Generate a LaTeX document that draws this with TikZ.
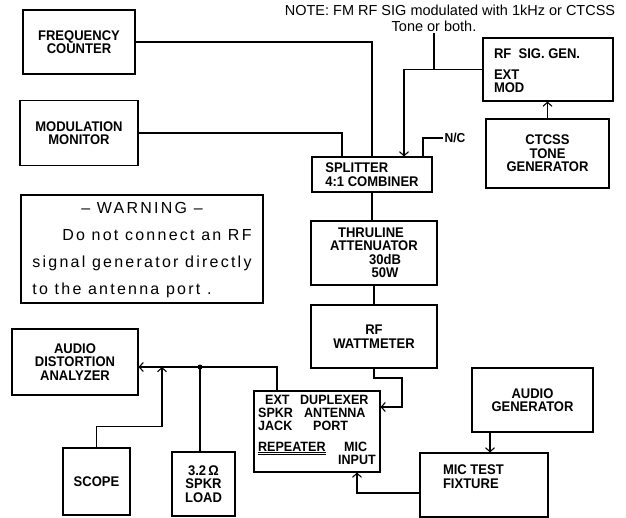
\documentclass[tikz,border=0pt]{standalone}
\usepackage{fontspec}
\setmainfont{Liberation Sans}
\newfontfamily\boxfont[FakeStretch=0.93]{Liberation Sans}
\newfontfamily\warnfont[LetterSpace=14]{Liberation Sans}
\usetikzlibrary{arrows.meta}

\begin{document}
\begin{tikzpicture}[x=1pt,y=-1pt,line width=1.1pt,>={Straight Barb[length=4pt,width=9pt]},
    box/.style={draw,rectangle,inner sep=0pt,align=center,font=\boxfont\bfseries\fontsize{14}{13.5}\selectfont},
    lbl/.style={inner sep=0pt,align=left,font=\boxfont\bfseries\fontsize{14}{13.5}\selectfont}]
    \useasboundingbox (0,0) rectangle (626,518);

    % Note at the top
    \node[anchor=base,inner sep=0pt,font=\fontsize{14.5}{15}\selectfont] (note) at (450,16) {NOTE: FM RF SIG modulated with 1kHz or CTCSS};
    \node[anchor=base,inner sep=0pt,font=\fontsize{14.5}{15}\selectfont] (note2) at (434,32) {Tone or both.};

    % Instruments
    \node[box,minimum width=112,minimum height=64] (freq) at (79,42) {FREQUENCY\\COUNTER};
    \node[box,minimum width=118,minimum height=65] (modmon) at (79,133) {MODULATION\\MONITOR};
    \node[box,minimum width=120,minimum height=35,align=left] (split) at (372,174.5) {SPLITTER\\4:1 COMBINER};
    \node[inner sep=1pt,anchor=west,font=\boxfont\bfseries\fontsize{13}{13}\selectfont] (nc) at (443,138) {N/C};
    \node[box,minimum width=130,minimum height=63] (rfgen) at (548,69.5) {};
    \node[lbl,anchor=north west] (rfgentxt) at ([xshift=11,yshift=-11]rfgen.north west) {RF\ \ SIG. GEN.\\[7pt]EXT\\MOD};
    \node[box,minimum width=123,minimum height=69] (ctcss) at (547.5,153.5) {CTCSS\\TONE\\GENERATOR};
    \node[box,minimum width=126,minimum height=64] (thru) at (374,253) {THRULINE\hspace*{6pt}\\ATTENUATOR\\\hspace*{22pt}30dB\\\hspace*{22pt}50W};
    \node[box,minimum width=126,minimum height=63] (watt) at (374,336.5) {RF\\WATTMETER};

    % Warning
    \node[draw,line width=1.3pt,minimum width=242,minimum height=108,inner sep=0pt] (warn) at (142,249)
        {\warnfont\fontsize{16}{27}\selectfont
         \begin{tabular}{@{}l@{}}
         \multicolumn{1}{@{}c@{}}{\textendash\ WARNING \textendash}\\
         \multicolumn{1}{@{}r@{}}{Do not connect an RF}\\
         signal generator directly\\
         to the antenna port .
         \end{tabular}};

    % Bottom row
    \node[box,minimum width=126,minimum height=81,font=\boxfont\bfseries\fontsize{13.5}{13}\selectfont] (rep) at (317,431.5)
        {\begin{tabular}{@{}l@{}}
         \makebox[42pt][l]{\hspace*{7pt}EXT}DUPLEXER\\
         \makebox[46pt][l]{SPKR}ANTENNA\\
         \makebox[55pt][l]{JACK}PORT\\[7pt]
         \makebox[86pt][l]{\underline{\underline{REPEATER}}}MIC\\
         \makebox[80pt][l]{}INPUT
         \end{tabular}};
    \node[box,minimum width=126,minimum height=66] (anlz) at (75,362) {AUDIO\\DISTORTION\\ANALYZER};
    \node[box,minimum width=67,minimum height=67] (scope) at (96.5,481.5) {SCOPE};
    \node[box,minimum width=63,minimum height=64] (load) at (203.5,484) {3.2\,Ω\\SPKR\\LOAD};
    \node[box,minimum width=121,minimum height=64] (agen) at (532.5,400) {AUDIO\\GENERATOR};
    \node[box,minimum width=128,minimum height=64] (mic) at (484,485) {};
    \node[lbl,anchor=north west] (mictxt) at ([xshift=23,yshift=-12]mic.north west) {MIC TEST\\FIXTURE};

    % Connections to the splitter
    \draw (freq.east) -| (split.north);
    \draw (modmon.east) -| ([xshift=-30]split.north);
    \draw[->] (rfgen.west) -| ([xshift=32]split.north);
    \draw ([xshift=51]split.north) |- (nc.west);
    \draw (note2.south) -- (note2.south |- rfgen.west);
    \draw[->] (ctcss.north) -- (ctcss.north |- rfgen.south);

    % RF path down to the repeater
    \draw (split.south) -- (split.south |- thru.north);
    \draw (thru.south) -- (watt.north);
    \draw[->] (watt.south) |- (402,378) |- ([yshift=24.5]rep.east);

    % Audio side
    \coordinate (jn) at (200,367);
    \coordinate (scj) at (162,367);
    \draw[->] ([xshift=-40]rep.north) |- ([yshift=-5]anlz.east);
    \fill (jn) circle (2.5);
    \draw (jn) -- (jn |- load.north);
    \draw[->] (scope.north) -- ++(0,-21) -| (scj);
    \draw[->] ([xshift=-42.5]agen.south) -- ([xshift=6]mic.north);
    \draw[->] ([yshift=-8]mic.west) -| ([xshift=40]rep.south);
\end{tikzpicture}
\end{document}
